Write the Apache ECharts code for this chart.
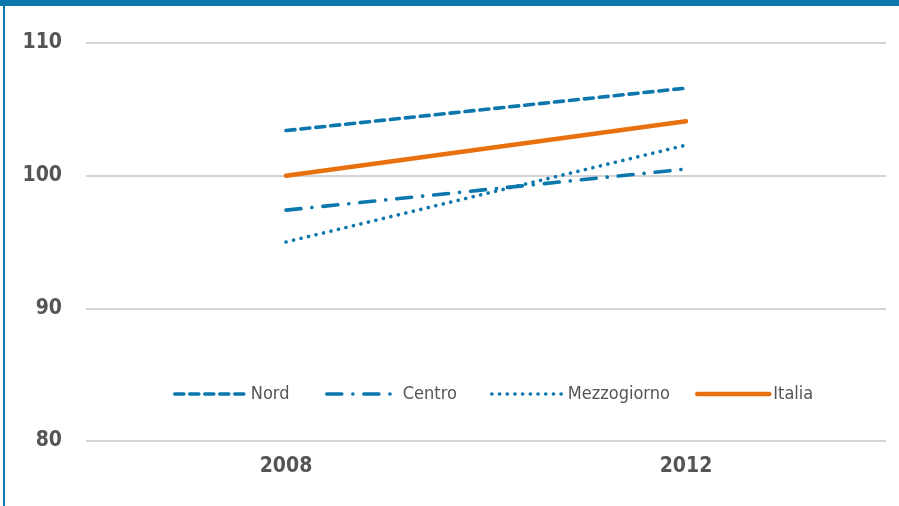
<!DOCTYPE html>
<html>
<head>
<meta charset="utf-8">
<script src="https://cdn.jsdelivr.net/npm/echarts@6/dist/echarts.min.js"></script>
<style>
  html, body { margin: 0; padding: 0; background: #fff; }
  #chart { width: 899px; height: 506px; }
</style>
</head>
<body>
<div id="chart"></div>
<script>
// Index values (2008 = 100 for Italia)
const years = ['2008', '2012'];
const nord = [103.4, 106.6];
const centro = [97.4, 100.5];
const mezzogiorno = [95.0, 102.3];
const italia = [100.0, 104.1];
const yTicks = [80, 90, 100, 110];

const BLUE = '#0b77ac';
const ORANGE = '#e8700e';
const FONT = '"DejaVu Sans Condensed", "Liberation Sans Narrow", sans-serif';

const styles = {
  Nord:        { color: BLUE,   width: 3.6, type: [9, 6] },
  Centro:      { color: BLUE,   width: 3.6, type: [15, 11, 0.1, 11] },
  Mezzogiorno: { color: BLUE,   width: 3.6, type: [0.1, 7.6] },
  Italia:      { color: ORANGE, width: 4.6, type: 'solid' }
};
const seriesData = { Nord: nord, Centro: centro, Mezzogiorno: mezzogiorno, Italia: italia };
const names = ['Nord', 'Centro', 'Mezzogiorno', 'Italia'];
// left edge of each legend entry
const legendLeft = { Nord: 173, Centro: 325, Mezzogiorno: 490, Italia: 695 };

const chart = echarts.init(document.getElementById('chart'), null, { renderer: 'canvas' });

const series = names.map(n => ({
  name: n, type: 'line', data: seriesData[n],
  symbol: 'none', silent: true,
  lineStyle: Object.assign({ cap: 'round' }, styles[n]),
  itemStyle: { color: styles[n].color }
}));

const legends = names.map(n => ({
  left: legendLeft[n], top: 385, padding: 0,
  itemWidth: 72, itemHeight: 14,
  itemStyle: { opacity: 0 },
  lineStyle: Object.assign({ cap: 'round' }, styles[n]),
  textStyle: { color: '#555', fontFamily: FONT, fontSize: 18, padding: [0, 0, 0, -1] },
  selectedMode: false,
  data: [n]
}));

chart.setOption({
  animation: false,
  backgroundColor: '#fff',
  grid: { left: 86, right: 13, top: 43, bottom: 65 },
  xAxis: {
    type: 'category',
    data: years,
    boundaryGap: true,
    axisLine: { show: false },
    axisTick: { show: false },
    axisLabel: { color: '#555', fontFamily: FONT, fontWeight: 'bold', fontSize: 21, margin: 15 }
  },
  yAxis: {
    type: 'value',
    min: yTicks[0], max: yTicks[yTicks.length - 1], interval: 10,
    axisLine: { show: false },
    axisTick: { show: false },
    axisLabel: { color: '#555', fontFamily: FONT, fontWeight: 'bold', fontSize: 21, margin: 24 },
    splitLine: { lineStyle: { color: '#c6c6c6', width: 1.5 } }
  },
  legend: legends,
  series: series,
  graphic: [
    { type: 'rect', left: 0, top: 0, shape: { width: 899, height: 6 }, style: { fill: BLUE }, silent: true },
    { type: 'rect', left: 3, top: 0, shape: { width: 2, height: 506 }, style: { fill: BLUE }, silent: true }
  ]
});
</script>
</body>
</html>
